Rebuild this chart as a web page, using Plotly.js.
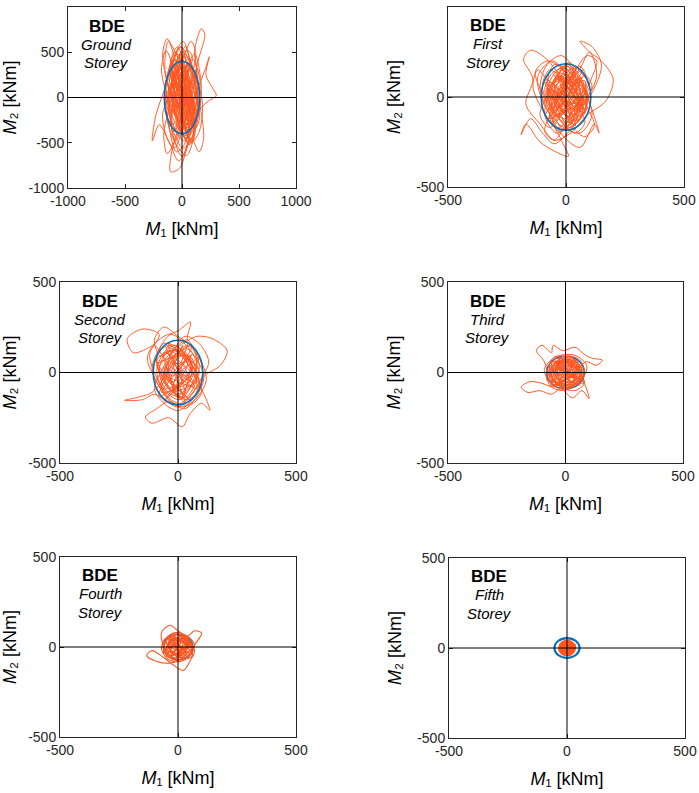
<!DOCTYPE html>
<html>
<head>
<meta charset="utf-8">
<script src="https://cdn.plot.ly/plotly-3.0.1.min.js"></script>
<style>html,body{margin:0;padding:0;background:#fff;}#chart{width:699px;height:793px;}</style>
</head>
<body>
<div id="chart"></div>
<script>
// ---- Data ----
var storeyNames = ["Ground", "First", "Second", "Third", "Fourth", "Fifth"];
var bdeLabel = "BDE";
var groundTicks = [-1000, -500, 0, 500, 1000];
var upperTicks = [-500, 0, 500];

// Blue elliptical envelope semi-axes (kNm)
var ellipseM1 = [155, 105, 105, 80, 62, 53];
var ellipseM2 = [400, 185, 178, 90, 70, 55];

// Orange M1-M2 trajectories
var groundM1 = [0, 30, -20, -60, -20, 40, 90, 60, -10, -80,
  -120, -90, 10, 100, 140, 90, 10, -70, -150, -130,
  -60, 40, 120, 170, 110, 30, -50, -100, -60, 20,
  80, 140, 200, 170, 110, 160, 120, 40, -40, -120,
  -170, -130, -60, 0, 60, 40, -30, -110, -200, -260,
  -230, -150, -90, -140, -180, -110, -20, 60, 110, 70,
  20, -40, -100, -30, 50, 130, 200, 240, 210, 270,
  300, 220, 130, 60, -20, -100, -90, -10, 70, 120,
  80, 10, -60, -120, -160, -130, -50, 30, 90, 130,
  100, 40, -30, -90, -60, 20, 100, 160, 190, 150,
  80, 0, -60, -110, -80, 0, 80, 140, 110, 40,
  -40, -100, -150, -120, -40, 50, 100, 60, -10, -70,
  -110, -60, 10, 80, 120, 90, 30, -40, -90, -60,
  0, 60, 110, 70, 0, -70, -130, -90, -20, 50,
  100, 60, -10, -70, -40, 30, 80, 40, -20, 0,
  40, 90, 50, -30, -70, -20, 60, 20, -50, -110,
  -140, -80, -30, 30, 80, 130, 100, 30, -20, 10,
  70, 110, 150, 120, 60, 0, -60, -120, -170, -140,
  -70, 0, 50, 20, -40, -90, -60, 10, 80, 150,
  180, 130, 60, -10, -80, -140, -110, -40, 30, 90,
  120, 70, 0, -50, -30, 40, 110, 90, 20, -40,
  -100, -150, -120, -50, 20, 70, 40, -20, -60, -20,
  50, 100, 140, 90, 20, -40, -80, -40, 30, 60,
  30, -20, -60, -90, -50, 10, 60, 100, 70, 10,
  -40, -20, 30, 60, 20, -30, -10, 20, 10, 0,
  -90, 80, -40, 120, -110, 30, -60, 100, -20, 60,
  -130, 50, -80, 140, 10, -100, 70, -30, 110, -70,
  20, -120, 90, -50, 130, -10, -90, 60, -40, 0,
  100, -80, 40, -130, 80, -20, 120, -60, 30, 0];
var groundM2 = [0, 250, 480, 300, -50, -380, -150, 220, 560, 380,
  20, -320, -560, -400, -50, 300, 620, 450, 100, -250,
  -500, -640, -350, 100, 480, 300, 80, -200, -480, -300,
  50, 400, 700, 760, 500, 150, -200, -420, -250, 120,
  480, 650, 420, 60, -300, -580, -700, -500, -300, -480,
  -200, 100, 350, 520, 300, -50, -300, -520, -300, 50,
  380, 560, 380, 120, -100, 80, 300, 450, 250, 100,
  20, -50, -180, -450, -780, -820, -600, -250, 150, 500,
  620, 440, 150, -150, -420, -620, -450, -150, 180, 320,
  100, -200, -400, -250, 40, 300, 420, -100, -450, -600,
  -450, -650, -500, -100, 250, 500, 380, 50, -250, -450,
  -300, 50, 300, 620, 450, 150, -180, -380, -200, 100,
  320, 500, 350, 80, -250, -500, -350, -50, 220, 420,
  300, 0, -300, -520, -400, -120, 200, 380, 200, -100,
  -250, 50, 250, 100, -150, -300, -120, 150, 250, 0,
  200, 450, 520, 350, 80, -150, -300, -520, -600, -350,
  0, 200, 450, 560, 330, 50, -200, -380, -150, 100,
  -100, -350, -250, 80, 350, 480, 260, 0, -180, -420,
  -560, -380, -100, 150, 400, 280, 40, -260, -500, -380,
  -80, 200, 420, 560, 400, 120, -120, -330, -420, -200,
  150, 380, 250, -20, -280, -460, -300, 20, 300, 480,
  360, 100, -150, -380, -480, -280, 50, 330, 220, -50,
  -300, -200, 100, 350, 450, 300, 50, -200, -350, -150,
  100, 280, 380, 200, -50, -250, -380, -200, 80, 250,
  150, -50, -200, -100, 80, 150, 40, -80, -30, 0,
  300, -200, 350, 50, -320, 180, -380, 260, -100, 380,
  -50, -300, 220, -150, 340, 80, -360, 150, -250, 290,
  -180, 120, -330, 310, -20, -280, 200, 360, -120, 40,
  -350, 250, 100, -200, 330, -300, 60, -90, 270, 0];

var firstM1 = [0, 50, 90, 40, -30, -80, -50, 20, 80, 110,
  60, -20, -90, -120, -60, 10, 70, 120, 150, 110,
  60, 100, 150, 200, 170, 90, 20, -50, -110, -170,
  -140, -180, -150, -90, -30, 40, 70, 20, -50, -100,
  -150, -190, -170, -110, -50, 10, -20, -60, -10, 60,
  100, 130, 80, 20, -40, -90, -60, 0, 60, 100,
  140, 120, 60, -10, -70, -110, -80, -20, 40, 90,
  60, -10, -60, -100, -70, -10, 50, 80, 40, -30,
  -80, -50, 10, 60, 90, 50, -10, -60, -40, 20,
  60, 30, -30, -70, -40, 10, 50, 30, -10, -40,
  -20, 20, 40, 10, -20, 0,
  -60, -100, -130, -80, -20, 40, 90, 120, 80, 30,
  -20, -70, -120, -140, -100, -40, 20, 70, 110, 130,
  90, 40, -10, -60, -90, -50, 0, 50, 100, 60,
  10, -40, -80, -110, -70, -20, 30, 80, 110, 70,
  20, -30, -70, -40, 10, 60, 90, 50, 0, -50,
  -90, -60, -10, 40, 70, 30, -20, -50, -20, 20,
  50, 20, -20, -40, -10, 0,
  -80, 60, -40, 90, -70, 30, -20, 80, -60, 10,
  70, -90, 40, -30, 60, -50, 90, -10, -80, 50,
  -40, 70, -70, 20, 80, -30, -90, 40, 0, 60,
  -60, 30, -80, 90, -20, 50, -50, 10, 70, -40,
  20, -70, 60, -10, 80, -80, 40, -30, 90, -60,
  10, 50, -90, 30, -20, 70, -50, 60, -10, 0];
var firstM2 = [0, 100, -20, -150, -100, 60, 180, 140, 20, -100,
  -200, -160, -50, 110, 200, 120, -40, 50, 180, 280,
  310, 250, 200, 100, -20, -100, -200, -240, -150, -40,
  100, 210, 260, 220, 130, 40, -80, -180, -260, -200,
  -120, -210, -150, -250, -300, -330, -240, -110, 30, 160,
  250, 120, -30, -150, -200, -100, 50, 170, 100, -30,
  -200, -150, -280, -220, -90, 50, 180, 230, 150, 20,
  -120, -180, -80, 60, 150, 90, -50, -140, -200, -120,
  20, 130, 180, 90, -40, -130, -90, 30, 110, 60,
  -30, -110, -70, 40, 100, 50, -20, -80, -40, 30,
  70, 40, -10, -40, -10, 0,
  -80, 20, 140, 200, 160, 60, -60, -160, -220, -170,
  -60, 70, 150, 60, -70, -170, -120, 0, 110, 200,
  230, 150, 40, -80, -190, -240, -150, -30, 60, 140,
  190, 120, 10, -100, -170, -100, 20, 120, 60, -40,
  -140, -190, -110, 10, 100, 170, 80, -20, -120, -80,
  40, 130, 160, 90, -20, -100, -60, 40, 90, 30,
  -40, -70, -20, 30, 10, 0,
  100, -50, 140, 20, -120, 60, 160, -90, 30, -160,
  80, -20, 170, -110, 40, 120, -60, -140, 50, 110,
  -80, 150, -30, -170, 90, 10, -100, 130, -60, 70,
  -150, 160, 20, -40, 100, -130, 60, 180, -70, -10,
  140, -120, 30, 90, -90, 50, -160, 120, 0, -50,
  170, -80, 80, -140, 40, 110, -30, -100, 60, 0];

var secondM1 = [0, 50, 80, 30, -40, -90, -60, 10, 70, 100,
  50, -30, -90, -120, -80, -150, -215, -190, -120, -60,
  0, 53, 40, 80, 140, 208, 180, 110, 60, 0,
  -60, -100, -150, -226, -180, -110, -60, -20, 40, 90,
  120, 80, 20, -40, -90, -138, -110, -40, 18, 50,
  100, 135, 110, 70, 20, -40, -90, -70, -10, 50,
  90, 60, 0, -60, -100, -74, -20, 40, 80, 50,
  0, -50, -80, -40, 20, 70, 90, 40, -20, -60,
  -30, 20, 60, 40, -10, -50, -30, 20, 40, 0,
  -50, -100, -130, -90, -30, 30, 80, 110, 70, 20,
  -30, -80, -110, -70, -10, 50, 100, 130, 90, 30,
  -20, -70, -100, -60, 0, 60, 90, 50, -10, -60,
  -90, -50, 10, 60, 80, 40, -20, -60, -30, 20,
  60, 30, -20, -50, -20, 20, 0,
  70, -50, 80, -80, 20, -30, 90, -60, 40, -10,
  -70, 60, -40, 30, -90, 50, 10, -60, 80, -20,
  40, -80, 70, -40, 0, 90, -50, 20, -70, 60,
  -30, 50, -90, 10, 80, -60, 30, -20, 60, 0];
var secondM2 = [0, 90, -30, -140, -80, 70, 160, 130, 10, -110,
  -180, -150, -30, 100, 210, 240, 187, 110, 140, 200,
  230, 279, 180, 200, 190, 122, 40, -20, -120, -190,
  -150, -120, -150, -154, -140, -110, -30, 80, 150, 80,
  -40, -140, -190, -160, -200, -246, -280, -250, -300, -230,
  -170, -209, -120, -20, 90, 150, 90, -30, -120, -80,
  30, 140, 200, 251, 180, 90, 130, 180, 60, -50,
  -130, -100, 20, 120, 100, 20, -90, -150, -110, -10,
  80, 120, 40, -60, -80, -20, 50, 40, -20, 0,
  60, 150, 80, -50, -160, -200, -130, -20, 90, 170,
  210, 130, 20, -100, -180, -130, -30, 60, 160, 200,
  120, 10, -90, -170, -210, -150, -50, 60, 150, 110,
  0, -110, -150, -60, 50, 130, 90, -20, -100, -60,
  40, 100, 50, -30, -50, 10, 0,
  -60, 120, 30, -130, 150, -20, 80, -160, 50, 130,
  -90, -10, 160, -120, 40, 90, -150, 110, -40, -100,
  170, 20, -80, 60, -140, 10, 140, -60, -110, 100,
  -30, -150, 70, 120, -90, 30, -170, 80, 150, 0];

var thirdM1 = [0, 40, 70, 30, -30, -60, -30, 20, 60, 80,
  40, -20, -70, -90, -124, -100, -60, -53, -10, 40,
  80, 110, 157, 130, 90, 50, 0, -50, -100, -150,
  -188, -160, -110, -60, -20, 30, 70, 100, 80, 40,
  0, -40, -70, -50, 0, 50, 80, 60, 10, -30,
  -60, -40, 10, 50, 70, 40, -10, -40, -20, 20,
  40, 20, -20, -10, 0,
  -50, -80, -60, -10, 40, 80, 90, 50, 0, -50,
  -90, -70, -20, 30, 70, 50, 0, -40, -60, -30,
  20, 60, 40, -10, -40, -20, 10, 0,
  50, -40, 60, -60, 20, -20, 70, -50, 30, -10,
  -70, 40, -30, 60, 0, -50, 40, -20, 10, 0,
  -70, 60, -30, 80, -60, 10, 70, -80, 40, -20,
  50, -50, 80, -10, -70, 30, -40, 70, -60, 20,
  60, -80, 10, 50, -30, 80, -50, 0, 40, -70,
  30, -20, 70, -40, 60, -10, -60, 20, 50, 0];
var thirdM2 = [0, 60, -20, -80, -40, 40, 90, 70, 0, -60,
  -100, -80, -20, 60, 122, 150, 110, 150, 120, 140,
  100, 80, 67, 40, 60, 20, -40, -80, -60, -50,
  -80, -110, -100, -120, -90, -140, -100, -145, -60, 0,
  60, 90, 40, -40, -80, -60, 10, 70, 90, 50,
  -10, -60, -90, -50, 20, 60, 50, 0, -40, -30,
  10, 40, 20, -10, 0,
  40, -20, -80, -100, -70, -20, 40, 90, 100, 80,
  20, -50, -90, -70, -10, 60, 90, 60, -10, -70,
  -80, -30, 40, 70, 30, -30, -10, 0,
  -40, 60, 20, -70, 80, -10, 40, -80, 50, 70,
  -40, -60, 80, 10, -70, 40, -30, 60, -20, 0,
  30, -70, 80, -20, -60, 90, 10, -40, 70, -90,
  40, 60, -50, 80, -10, -80, 50, 20, -70, 90,
  -30, 10, -90, 60, 40, -60, -20, 80, -50, 30,
  70, -80, 0, 50, -40, -70, 60, 20, -30, 0];

var fourthM1 = [0, 30, 60, 30, -20, -50, -30, 10, 50, 60,
  20, -30, -60, -70, -34, 0, 40, 70, 100, 80,
  50, 10, -40, -90, -133, -110, -60, -20, 23, 50,
  70, 40, 0, -40, -60, -30, 10, 40, 30, -10,
  -40, -20, 20, 40, 10, -20, 0,
  -50, -70, -40, 10, 50, 70, 40, -10, -50, -60,
  -20, 30, 60, 40, -10, -40, -20, 20, 40, 10,
  -20, 0,
  40, -30, 50, -50, 20, -10, 60, -40, 20, 0,
  -60, 30, -20, 50, 0,
  -50, 40, -20, 60, -40, 10, 50, -60, 30, -10,
  40, -40, 60, -10, -50, 20, -30, 50, -20, 0];
var fourthM2 = [0, 50, -10, -60, -40, 30, 70, 60, 10, -50,
  -70, -50, 0, 80, 121, 90, 60, 90, 77, 30,
  -20, -70, -90, -80, -48, -20, -60, -100, -130, -80,
  -20, 40, 70, 50, -10, -60, -50, 0, 40, 50,
  10, -40, -30, 10, 30, 10, 0,
  50, -10, -70, -80, -50, 10, 60, 80, 50, -20,
  -70, -60, -10, 50, 70, 30, -30, -40, 0, 30,
  10, 0,
  -30, 50, 10, -50, 60, -10, 30, -60, 40, 50,
  -30, -40, 60, 0, 0,
  20, -50, 60, -10, -40, 60, 10, -30, 50, -60,
  30, 40, -40, 55, -10, -55, 35, 15, -45, 0];

var fifthM1 = [0, 20, 35, 30, 10, -15, -33, -30, -10, 15,
  32, 25, 0, -25, -35, -20, 5, 28, 35, 20,
  -5, -28, -30, -10, 10, 25, 15, -10, -20, 0];
var fifthM2 = [0, 30, 15, -20, -40, -38, -15, 20, 40, 38,
  10, -25, -42, -30, 0, 30, 42, 25, -5, -35,
  -40, -20, 15, 35, 30, 0, -25, -20, 10, 0];

var seriesM1 = [groundM1, firstM1, secondM1, thirdM1, fourthM1, fifthM1];
var seriesM2 = [groundM2, firstM2, secondM2, thirdM2, fourthM2, fifthM2];

// ---- Layout geometry (pixel boxes of each panel) ----
var W = 699, H = 793;
var boxes = [
  {l: 68, r: 296, t: 7, b: 188},
  {l: 448, r: 684, t: 7, b: 187},
  {l: 60, r: 296, t: 282, b: 463},
  {l: 448, r: 683, t: 282, b: 463},
  {l: 60, r: 296, t: 557, b: 737},
  {l: 449, r: 685, t: 558, b: 738}
];
var ellipseLayer = ["above", "above", "above", "between", "between", "above"];
var traceWidth = [0.95, 0.95, 0.95, 1.0, 1.1, 1.5];

var orange = "#FF5722";
var blue = "#0072BD";
var frameColor = "#262626";
var fam = "Liberation Sans, Arial, sans-serif";
var tickFont = {family: fam, size: 14, color: "#262626"};
var titleFont = {family: fam, size: 18, color: "#000"};

var data = [];
var layout = {
  width: W, height: H,
  margin: {l: 0, r: 0, t: 0, b: 0},
  paper_bgcolor: "#fff", plot_bgcolor: "#fff",
  showlegend: false,
  shapes: [], annotations: []
};

for (var i = 0; i < 6; i++) {
  var n = i === 0 ? "" : String(i + 1);
  var xa = "xaxis" + n, ya = "yaxis" + n;
  var xr = "x" + n, yr = "y" + n;
  var bx = boxes[i];
  var lim = i === 0 ? 1000 : 500;
  var ticks = i === 0 ? groundTicks : upperTicks;
  var common = {
    range: [-lim, lim], tickvals: ticks, ticktext: ticks.map(String),
    showgrid: false, zeroline: false,
    showline: true, mirror: "ticks", linecolor: frameColor, linewidth: 1,
    ticks: "inside", ticklen: 4, tickcolor: frameColor, tickwidth: 1,
    tickfont: tickFont, fixedrange: true
  };
  layout[xa] = Object.assign({}, common, {
    domain: [bx.l / W, bx.r / W], anchor: yr,
    title: {text: "<i>M</i>\u2081 [kNm]", font: titleFont, standoff: 14}
  });
  layout[ya] = Object.assign({}, common, {
    domain: [1 - bx.b / H, 1 - bx.t / H], anchor: xr,
    title: {text: "<i>M</i>\u2082 [kNm]", font: titleFont, standoff: 10}
  });

  data.push({
    type: "scatter", mode: "lines", xaxis: xr, yaxis: yr,
    x: seriesM1[i], y: seriesM2[i],
    line: {color: orange, width: traceWidth[i], shape: "spline", smoothing: 0.9},
    fill: i === 5 ? "toself" : "none", fillcolor: orange,
    hoverinfo: "skip"
  });

  layout.shapes.push({
    type: "circle", xref: xr, yref: yr,
    x0: -ellipseM1[i], x1: ellipseM1[i], y0: -ellipseM2[i], y1: ellipseM2[i],
    line: {color: blue, width: i === 5 ? 2.2 : 1.6}, layer: ellipseLayer[i]
  });
  layout.shapes.push({
    type: "line", xref: xr, yref: yr + " domain", x0: 0, x1: 0, y0: 0, y1: 1,
    line: {color: "#000", width: 1}, layer: "above"
  });
  layout.shapes.push({
    type: "line", xref: xr + " domain", yref: yr, x0: 0, x1: 1, y0: 0, y1: 0,
    line: {color: "#000", width: 1}, layer: "above"
  });

  var ax = 0.17;
  layout.annotations.push({
    xref: xr + " domain", yref: yr + " domain", x: ax, y: 0.895, showarrow: false,
    text: bdeLabel, xanchor: "center", yanchor: "middle",
    font: {family: fam, size: 17, color: "#000", weight: "bold"}
  });
  layout.annotations.push({
    xref: xr + " domain", yref: yr + " domain", x: ax, y: 0.795, showarrow: false,
    text: storeyNames[i], xanchor: "center", yanchor: "middle",
    font: {family: fam, size: 15, color: "#000", style: "italic"}
  });
  layout.annotations.push({
    xref: xr + " domain", yref: yr + " domain", x: ax, y: 0.693, showarrow: false,
    text: "Storey", xanchor: "center", yanchor: "middle",
    font: {family: fam, size: 15, color: "#000", style: "italic"}
  });
}

Plotly.newPlot("chart", data, layout, {displayModeBar: false, staticPlot: true});
</script>
</body>
</html>
